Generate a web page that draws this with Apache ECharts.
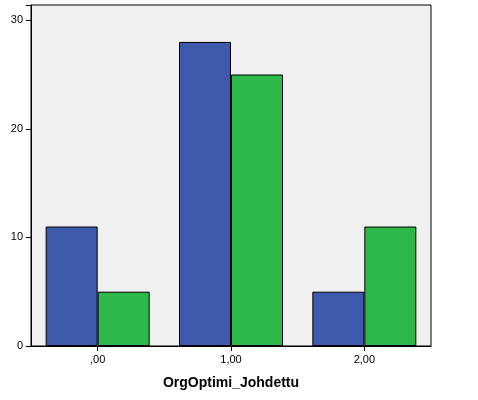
<!DOCTYPE html>
<html><head><meta charset="utf-8">
<script src="https://cdn.jsdelivr.net/npm/echarts@6/dist/echarts.min.js"></script>
<style>html,body{margin:0;padding:0;background:#fff}#c{width:478px;height:400px}</style>
</head><body><div id="c"></div>
<script>
const categories = [',00', '1,00', '2,00'];
const seriesA = [11, 28, 5];
const seriesB = [5, 25, 11];
const yTicks = [0, 10, 20, 30];
const chart = echarts.init(document.getElementById('c'));
chart.setOption({
  animation: false,
  grid: {left: 31, right: 47, top: 5, bottom: 54, show: true, backgroundColor: '#f0f0f0', borderColor: '#000', borderWidth: 1},
  xAxis: {type: 'category', data: categories, name: 'OrgOptimi_Johdettu', nameLocation: 'middle', nameGap: 30,
    nameTextStyle: {fontFamily: 'Liberation Sans, Arial', fontSize: 14, fontWeight: 'bold', color: '#000'},
    axisLine: {lineStyle: {color: '#000'}}, axisTick: {show: true, alignWithLabel: true, lineStyle: {color: '#000'}},
    axisLabel: {fontFamily: 'Liberation Sans, Arial', fontSize: 11, color: '#000'}},
  yAxis: {type: 'value', min: 0, max: 31.4, interval: 10,
    axisLine: {show: true, lineStyle: {color: '#000'}}, axisTick: {show: true, lineStyle: {color: '#000'}},
    splitLine: {show: false},
    axisLabel: {fontFamily: 'Liberation Sans, Arial', fontSize: 11, color: '#000',
      formatter: v => yTicks.includes(v) ? String(v) : ''}},
  series: [
    {type: 'bar', data: seriesA, barGap: '0%', barCategoryGap: '22%', itemStyle: {color: '#3e58ac', borderColor: '#000', borderWidth: 1}},
    {type: 'bar', data: seriesB, itemStyle: {color: '#2db84b', borderColor: '#000', borderWidth: 1}}
  ]
});
</script></body></html>
